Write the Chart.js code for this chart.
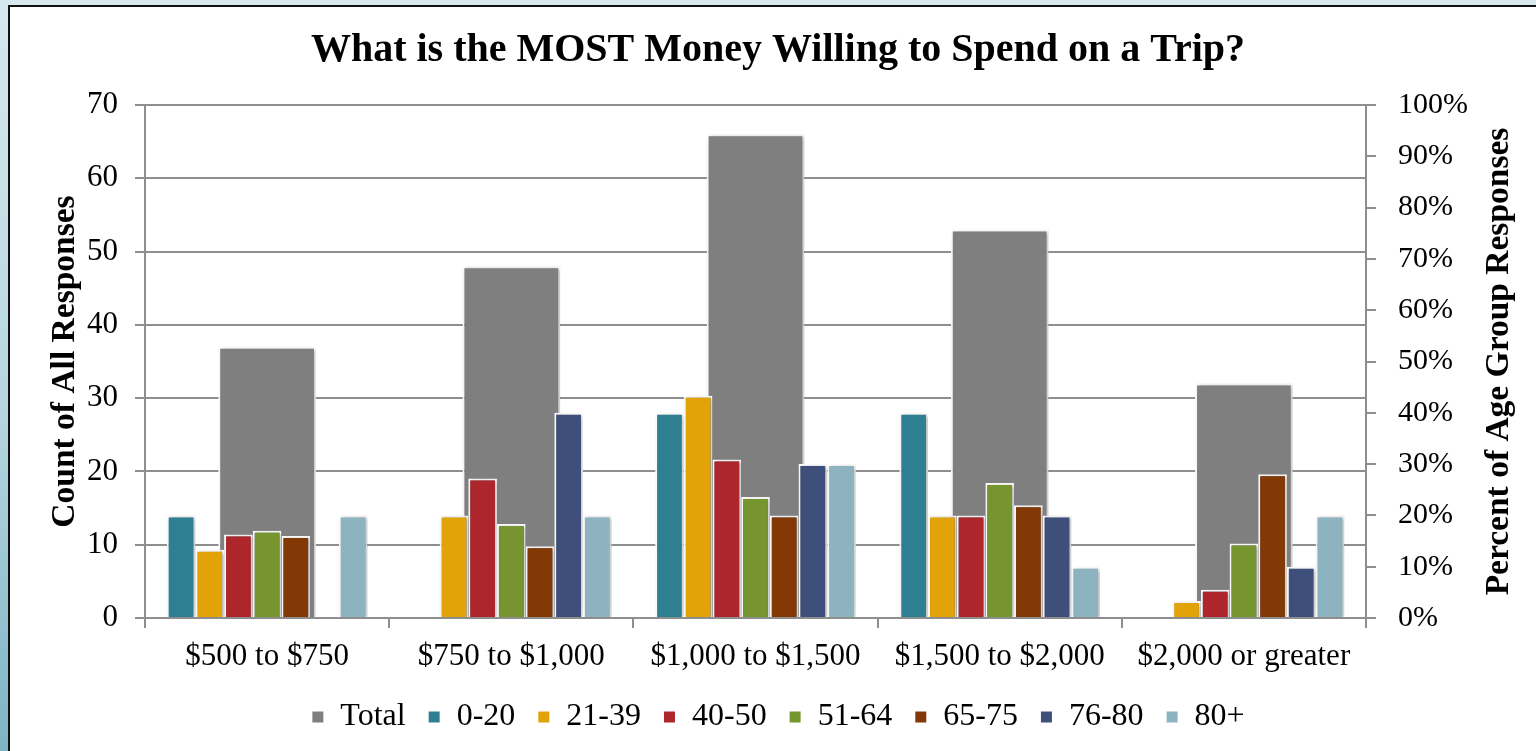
<!DOCTYPE html>
<html>
<head>
<meta charset="utf-8">
<script src="https://cdn.jsdelivr.net/npm/chart.js@4.4.1/dist/chart.umd.min.js"></script>
<style>
  html, body { margin: 0; padding: 0; width: 1536px; height: 751px; overflow: hidden; }
  body { background: linear-gradient(to bottom, #d7e8ee 0%, #b6d5df 55%, #7db4c4 100%); position: relative; }
  #panel { position: absolute; left: 8px; top: 5px; width: 1580px; height: 800px; background: #fff;
           border-left: 2px solid #111; border-top: 2px solid #111; }
  #wrap { position: absolute; left: 0; top: 0; width: 1536px; height: 751px; }
</style>
</head>
<body>
<div id="panel"></div>
<div id="wrap"><canvas id="chart"></canvas></div>
<script>
// Spending ranges
const categories = ['$500 to $750', '$750 to $1,000', '$1,000 to $1,500', '$1,500 to $2,000', '$2,000 or greater'];

// Count of all responses (left axis)
const totalCounts = [37, 48, 66, 53, 32];

// Percent of each age group's responses (right axis); null = no responses
const age0to20  = [20, null, 40, 40, null];
const age21to39 = [13.3, 20, 43.3, 20, 3.3];
const age40to50 = [16.3, 27.2, 30.9, 20, 5.5];
const age51to64 = [17.0, 18.3, 23.6, 26.3, 14.5];
const age65to75 = [16, 14, 20, 22, 28];
const age76to80 = [null, 40, 30, 20, 10];
const age80plus = [20, 20, 30, 10, 20];

const ageLabels = ['0-20', '21-39', '40-50', '51-64', '65-75', '76-80', '80+'];
const ageSeries = [age0to20, age21to39, age40to50, age51to64, age65to75, age76to80, age80plus];
const ageColors = ['#2e7f91', '#e1a308', '#ad262b', '#76952f', '#833906', '#3e4f7b', '#8db3c1'];

// Axis tick values
const countTicks = [0, 10, 20, 30, 40, 50, 60, 70];
const percentTicks = [0, 10, 20, 30, 40, 50, 60, 70, 80, 90, 100];

const SERIF = '"Liberation Serif", "Times New Roman", serif';
const GRID = '#8e8e8e';

// Soft shadow behind every bar
const barShadow = {
  id: 'barShadow',
  beforeDatasetsDraw(chart) {
    const ctx = chart.ctx;
    ctx.save();
    ctx.shadowColor = 'rgba(0,0,0,0.30)';
    ctx.shadowBlur = 4;
    ctx.shadowOffsetX = 1.5;
    ctx.shadowOffsetY = 1;
  },
  afterDatasetsDraw(chart) {
    chart.ctx.restore();
  }
};

// Right-hand axis title, reading bottom to top like the left one
const rightAxisTitle = {
  id: 'rightAxisTitle',
  afterDraw(chart, args, opts) {
    const s = chart.scales.y1;
    const ctx = chart.ctx;
    ctx.save();
    ctx.font = 'bold ' + opts.size + 'px ' + SERIF;
    ctx.fillStyle = '#000';
    ctx.textAlign = 'center';
    ctx.textBaseline = 'middle';
    ctx.translate(s.right - opts.offset, (s.top + s.bottom) / 2);
    ctx.rotate(-Math.PI / 2);
    ctx.fillText(opts.text, 0, 0);
    ctx.restore();
  }
};

const datasets = [{
  label: 'Total',
  data: totalCounts,
  backgroundColor: '#7f7f7f',
  borderColor: '#ffffff',
  borderWidth: 2,
  yAxisID: 'y',
  grouped: false,
  categoryPercentage: 0.4,
  barPercentage: 1.0,
  order: 1
}];
ageSeries.forEach((vals, i) => {
  datasets.push({
    label: ageLabels[i],
    data: vals,
    backgroundColor: ageColors[i],
    borderColor: '#ffffff',
    borderWidth: 2,
    yAxisID: 'y1',
    categoryPercentage: 0.822,
    barPercentage: 1.0,
    order: 0
  });
});

new Chart(document.getElementById('chart'), {
  type: 'bar',
  data: { labels: categories, datasets },
  plugins: [barShadow, rightAxisTitle],
  options: {
    responsive: true,
    maintainAspectRatio: false,
    animation: false,
    layout: { padding: { left: 20, right: 0, top: 0, bottom: 8 } },
    plugins: {
      title: {
        display: true,
        text: 'What is the MOST Money Willing to Spend on a Trip?',
        color: '#000',
        font: { family: SERIF, size: 40, weight: 'bold' },
        padding: { top: 27, bottom: 30 }
      },
      legend: {
        position: 'bottom',
        labels: {
          color: '#000',
          font: { family: SERIF, size: 32 },
          boxWidth: 13,
          boxHeight: 13,
          padding: 22,
          sort: (a, b) => a.datasetIndex - b.datasetIndex
        }
      },
      tooltip: { enabled: false },
      rightAxisTitle: { text: 'Percent of Age Group Responses', offset: 37, size: 33.5 }
    },
    scales: {
      x: {
        grid: { drawOnChartArea: false, drawTicks: true, tickLength: 10, color: GRID, lineWidth: 2, offset: true },
        border: { color: GRID, width: 2 },
        ticks: { color: '#000', font: { family: SERIF, size: 31 }, padding: 10, maxRotation: 0 },
        afterFit: s => { s.height = 61; }
      },
      y: {
        position: 'left',
        min: countTicks[0],
        max: countTicks[countTicks.length - 1],
        afterBuildTicks: s => { s.ticks = countTicks.map(v => ({ value: v })); },
        ticks: { color: '#000', font: { family: SERIF, size: 31 }, padding: 17 },
        grid: { color: GRID, lineWidth: 2, tickLength: 10 },
        border: { color: GRID, width: 2 },
        title: {
          display: true,
          text: 'Count of All Responses',
          color: '#000',
          font: { family: SERIF, size: 33.5, weight: 'bold' },
          padding: { top: 25, bottom: 0 }
        },
        afterFit: s => { s.width = 125; }
      },
      y1: {
        position: 'right',
        min: percentTicks[0],
        max: percentTicks[percentTicks.length - 1],
        afterBuildTicks: s => { s.ticks = percentTicks.map(v => ({ value: v })); },
        ticks: { color: '#000', font: { family: SERIF, size: 30 }, padding: 22, callback: v => v + '%' },
        grid: { drawOnChartArea: false, color: GRID, lineWidth: 2, tickLength: 10 },
        border: { color: GRID, width: 2 },
        afterFit: s => { s.width = 170; }
      }
    }
  }
});
</script>
</body>
</html>
